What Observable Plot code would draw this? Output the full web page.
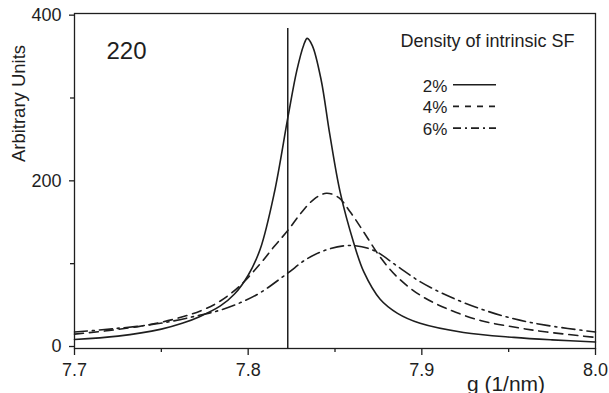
<!DOCTYPE html>
<html>
<head>
<meta charset="utf-8">
<script src="https://cdn.jsdelivr.net/npm/d3@7"></script>
<script src="https://cdn.jsdelivr.net/npm/@observablehq/plot@0.6"></script>
<style>
  html, body { margin: 0; padding: 0; background: #fff; }
  #chart { width: 609px; height: 393px; }
</style>
</head>
<body>
<div id="chart"></div>
<script>
// ---- data ----
const seriesNames = ["2%", "4%", "6%"];

const g2 = [7.700, 7.725, 7.750, 7.762, 7.772, 7.784, 7.792, 7.800, 7.807, 7.815, 7.823, 7.828, 7.832, 7.834, 7.837, 7.842, 7.847, 7.853, 7.8608, 7.8666, 7.876, 7.886, 7.899, 7.924, 7.953, 7.975, 8.000];
const v2 = [8.5, 12.5, 21, 28, 36, 49, 63, 86, 118, 185, 278, 333, 364, 372, 363, 322, 256, 186, 125, 90, 57, 40, 28, 17, 11, 8, 5.5];

const g4 = [7.700, 7.7226, 7.7495, 7.7725, 7.784, 7.7956, 7.807, 7.8147, 7.8228, 7.830, 7.838, 7.845, 7.852, 7.8589, 7.8666, 7.876, 7.8858, 7.899, 7.9146, 7.9337, 7.953, 7.972, 8.000];
const v4 = [15, 20, 29, 43, 55, 74, 100, 120, 140, 160, 178, 185, 180, 162, 138, 108, 84, 62, 45.5, 31.5, 23.5, 17.5, 11];

const g6 = [7.700, 7.7226, 7.7495, 7.7725, 7.784, 7.7956, 7.807, 7.8224, 7.834, 7.8455, 7.859, 7.8723, 7.8858, 7.8992, 7.9146, 7.9337, 7.953, 7.972, 8.000];
const v6 = [17.5, 21.5, 28, 38, 44, 53, 65, 88, 106, 117, 122, 116, 97, 78, 61.5, 45.5, 33.5, 25.5, 17.5];

const xMajorTicks = [7.7, 7.8, 7.9, 8.0];
const xMinorTicks = [7.75, 7.85, 7.95];
const yMajorTicks = [0, 200, 400];
const yMinorTicks = [100, 300];

const markerG = [7.8228];   // vertical reference line position
const markerTop = 384;      // its top end (data units)

const panelLabel = "220";
const legendTitle = "Density of intrinsic SF";
const xTitle = "g (1/nm)";
const yTitle = "Arbitrary Units";

// ---- build tables ----
const toRows = (gs, vs, name) => gs.map((g, i) => ({g, v: vs[i], series: name}));
const rows2 = toRows(g2, v2, seriesNames[0]);
const rows4 = toRows(g4, v4, seriesNames[1]);
const rows6 = toRows(g6, v6, seriesNames[2]);

const ink = "#1e1e1e";
const dashes = [null, "9,6", "13,5,2,5"];
const font = "'Liberation Sans', Arial, Helvetica, sans-serif";
const yDomain = [-2.4, 402];

const svg = Plot.plot({
  width: 609,
  height: 393,
  marginLeft: 74,
  marginRight: 14,
  marginTop: 13,
  marginBottom: 45,
  style: {fontFamily: font, fontSize: "18px", color: ink, background: "#fff", overflow: "visible"},
  x: {domain: [7.7, 8.0]},
  y: {domain: yDomain},
  marks: [
    Plot.axisX({ticks: xMajorTicks, tickSize: 7, tickPadding: 8, tickFormat: d => d.toFixed(1), label: null, strokeWidth: 1.3}),
    Plot.axisX({ticks: xMinorTicks, tickSize: 4, tickFormat: () => "", label: null, strokeWidth: 1.3}),
    Plot.axisY({ticks: yMajorTicks, tickSize: 5, tickPadding: 8, tickFormat: d => String(d), label: null, strokeWidth: 1.3}),
    Plot.axisY({ticks: yMinorTicks, tickSize: 4, tickFormat: () => "", label: null, strokeWidth: 1.3}),
    Plot.ruleX(markerG, {y1: markerTop, y2: yDomain[0], stroke: ink, strokeWidth: 1.5}),
    Plot.line(rows2, {x: "g", y: "v", curve: "catmull-rom", stroke: ink, strokeWidth: 1.6}),
    Plot.line(rows4, {x: "g", y: "v", curve: "catmull-rom", stroke: ink, strokeWidth: 1.6, strokeDasharray: dashes[1]}),
    Plot.line(rows6, {x: "g", y: "v", curve: "catmull-rom", stroke: ink, strokeWidth: 1.6, strokeDasharray: dashes[2]}),
    Plot.frame({stroke: ink, strokeWidth: 1.3}),
    Plot.text([panelLabel], {frameAnchor: "top-left", dx: 32, dy: 37.6, textAnchor: "start", lineAnchor: "middle", fontSize: 24, fill: ink}),
    Plot.text([legendTitle], {frameAnchor: "top-right", dx: -21, dy: 27.7, textAnchor: "end", lineAnchor: "middle", fontSize: 18, fill: ink}),
    Plot.text([xTitle], {frameAnchor: "bottom-right", dx: -89.5, dy: 35.3, textAnchor: "middle", lineAnchor: "middle", fontSize: 21, fill: ink}),
    Plot.text([yTitle], {frameAnchor: "left", dx: -55.7, dy: -77.5, rotate: -90, textAnchor: "middle", lineAnchor: "middle", fontSize: 18.5, fill: ink})
  ]
});

// legend entries (inside the plot, top right)
const lg = d3.select(svg).append("g")
  .attr("font-family", font)
  .attr("font-size", 17)
  .attr("fill", ink);
seriesNames.forEach((name, i) => {
  const base = 91.7 + i * 21.7;
  lg.append("text")
    .attr("x", 447.3).attr("y", base)
    .attr("text-anchor", "end")
    .text(name);
  lg.append("line")
    .attr("x1", 453).attr("x2", 496)
    .attr("y1", base - 7).attr("y2", base - 7)
    .attr("stroke", ink).attr("stroke-width", 1.6)
    .attr("stroke-dasharray", i === 1 ? "6,6" : i === 2 ? "8,4,2,4" : null);
});

document.getElementById("chart").appendChild(svg);
</script>
</body>
</html>
